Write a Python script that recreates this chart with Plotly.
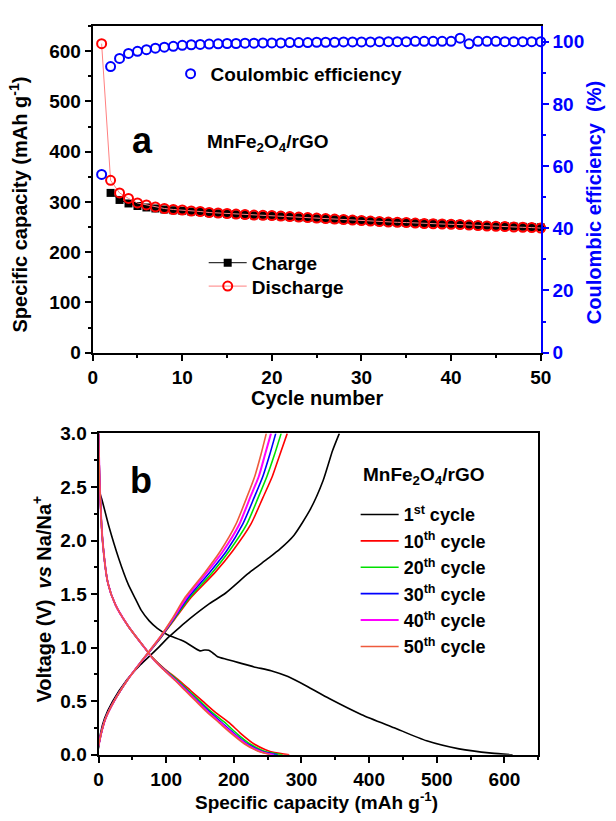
import plotly.graph_objects as go

W, H = 616, 821
def fx(px): return px / W
def fy(py): return 1 - py / H

# ---------------- Panel a data ----------------
cycles = list(range(1, 51))
charge_cycles = list(range(2, 51))
discharge_cap = [615, 343, 318, 307, 298, 294, 290, 287, 285, 284,
                 282, 281, 279, 278, 277, 276, 275, 274, 273.5, 273,
                 272, 271, 270, 269, 268, 267, 266, 265, 264, 263,
                 262, 261, 260, 259.5, 259, 258, 257, 256.5, 256, 255.5,
                 255, 254, 253, 252, 251.5, 251, 250, 249.5, 249, 248]
charge_cap = [318, 304, 297, 292, 289, 287, 285, 283.5, 282.5,
              281, 280, 278.5, 277.5, 276.5, 275.5, 274.5, 273.5, 273, 272.5,
              271.5, 270.5, 269.5, 268.5, 267.5, 266.5, 265.5, 265, 264, 263,
              262, 261, 260, 259.5, 259, 258, 257.5, 257, 256.5, 256,
              255.5, 254, 253.5, 252.5, 252, 251.5, 251, 250.5, 250, 249.5]
coulombic_eff = [57.3, 92.0, 94.6, 96.2, 96.9, 97.4, 97.9, 98.2, 98.5, 98.8,
                 99.0, 99.1, 99.2, 99.3, 99.4, 99.4, 99.5, 99.5, 99.6, 99.6,
                 99.6, 99.7, 99.7, 99.7, 99.8, 99.8, 99.8, 99.9, 99.9, 99.9,
                 99.9, 100.0, 100.0, 100.0, 100.0, 100.1, 100.1, 100.1, 100.1, 100.1,
                 101.1, 99.3, 100.1, 100.1, 100.1, 100.0, 100.0, 100.0, 100.0, 100.0]

# ---------------- Panel b data ----------------
dis_v = [3.0, 2.5, 2.0, 1.6, 1.4, 1.2, 1.0, 0.9, 0.8, 0.7, 0.6, 0.5, 0.4, 0.3, 0.2, 0.1, 0.05, 0.02, 0.0]
dis_10 = [0, 2, 6, 14, 25, 44, 68, 81, 98, 118, 136, 154, 172, 193, 210, 230, 246, 260, 282]
dis_20 = [0, 2, 6, 14, 25, 44, 68, 80.5, 97, 116, 133, 150, 167, 187, 204, 224, 239, 252, 272]
dis_30 = [0, 2, 6, 14, 25, 44, 68, 80, 96, 114, 131, 147, 164, 182, 200, 220, 235, 247, 265]
dis_40 = [0, 2, 6, 14, 25, 44, 68, 80, 95.5, 113, 129.5, 145.5, 162, 180, 198, 218, 232, 244, 259]
dis_50 = [0, 2, 6, 14, 25, 44, 68, 80, 95, 112, 128, 144, 160, 178, 196, 216, 230, 242, 254]

chg_v = [0.08, 0.2, 0.34, 0.5, 0.7, 0.86, 0.96, 1.1, 1.26, 1.47, 1.7, 1.9, 2.15, 2.4, 2.6, 2.8, 3.0]
chg_10 = [0, 4, 10.5, 23, 43, 62, 75, 93, 112, 137, 172, 198, 225, 243, 257, 268, 279]
chg_20 = [0, 4, 10.5, 23, 43, 62, 75, 92.5, 111, 135, 168, 193, 219, 236, 249, 260, 270]
chg_30 = [0, 4, 10.5, 23, 43, 62, 74.5, 92, 110, 133, 164, 189, 213, 230, 243, 253, 262]
chg_40 = [0, 4, 10.5, 23, 43, 62, 74.5, 91.5, 109, 130.5, 160, 184, 208, 224, 237, 246, 255]
chg_50 = [0, 4, 10.5, 23, 43, 62, 74, 91, 108, 128, 157, 180, 203, 219, 231, 240, 248]

first_dis_cap = [0, 2, 6, 15, 30, 44, 55, 63, 75, 87, 102, 126, 150, 157, 163, 169, 176, 190,
                 207, 230, 255, 280, 308, 341, 389, 437, 485, 533, 581, 612]
first_dis_v = [2.55, 2.45, 2.36, 2.14, 1.83, 1.59, 1.45, 1.35, 1.25, 1.18, 1.12, 1.06, 0.97, 0.978,
               0.975, 0.95, 0.915, 0.89, 0.86, 0.82, 0.785, 0.73, 0.64, 0.525, 0.374, 0.252, 0.13,
               0.055, 0.015, 0.0]
first_chg_cap = [0, 3, 9, 21, 42, 62, 77, 90, 104, 120, 135, 164, 188, 221, 250, 268, 289, 313, 332, 346, 356]
first_chg_v = [0.06, 0.2, 0.34, 0.5, 0.7, 0.84, 0.93, 1.01, 1.1, 1.19, 1.27, 1.41, 1.51, 1.69, 1.83,
               1.92, 2.05, 2.29, 2.56, 2.84, 3.0]

cycle_names = ["1<sup>st</sup> cycle", "10<sup>th</sup> cycle", "20<sup>th</sup> cycle",
               "30<sup>th</sup> cycle", "40<sup>th</sup> cycle", "50<sup>th</sup> cycle"]
cycle_colors = ["#000000", "#FF0000", "#00E000", "#0000FF", "#FF00FF", "#EE5A3C"]

FONT = "Liberation Sans, Arial, sans-serif"
fig = go.Figure()

# Panel a traces
fig.add_trace(go.Scatter(
    x=charge_cycles, y=charge_cap, mode="lines+markers", name="Charge",
    line=dict(color="#000000", width=1),
    marker=dict(symbol="square", size=8, color="#000000"),
    xaxis="x", yaxis="y", legend="legend2", cliponaxis=False))
fig.add_trace(go.Scatter(
    x=cycles, y=discharge_cap, mode="lines+markers", name="Discharge",
    line=dict(color="#FF8080", width=1),
    marker=dict(symbol="circle-open", size=9, color="#FF0000", line=dict(width=2, color="#FF0000")),
    xaxis="x", yaxis="y", legend="legend4", cliponaxis=False))
fig.add_trace(go.Scatter(
    x=cycles, y=coulombic_eff, mode="markers", name="Coulombic efficiency",
    marker=dict(symbol="circle-open", size=9, color="#0000FF", line=dict(width=2, color="#0000FF")),
    xaxis="x", yaxis="y2", legend="legend", cliponaxis=False))

# Panel b traces
dis_sets = [first_dis_cap, dis_10, dis_20, dis_30, dis_40, dis_50]
chg_sets = [first_chg_cap, chg_10, chg_20, chg_30, chg_40, chg_50]
for i, (name, col) in enumerate(zip(cycle_names, cycle_colors)):
    if i == 0:
        dv, cv = first_dis_v, first_chg_v
    else:
        dv, cv = dis_v, chg_v
    xs = list(dis_sets[i]) + [None] + list(chg_sets[i])
    ys = list(dv) + [None] + list(cv)
    fig.add_trace(go.Scatter(
        x=xs, y=ys, mode="lines", name=name,
        line=dict(color=col, width=1.6 if i != 4 else 2, shape="spline", smoothing=0.6),
        xaxis="x2", yaxis="y3", legend="legend3", connectgaps=False))

tickfont = dict(family=FONT, size=19, color="#000000", weight="bold")
common_axis = dict(showline=True, linewidth=2, linecolor="#000000", ticks="outside",
                   ticklen=6, tickwidth=2, tickcolor="#000000", showgrid=False,
                   zeroline=False, tickfont=tickfont)

legfont = dict(family=FONT, size=19, weight="bold")
fig.update_layout(
    width=W, height=H, margin=dict(l=0, r=0, t=0, b=0),
    paper_bgcolor="white", plot_bgcolor="white",
    font=dict(family=FONT, size=19, color="#000000"),
    xaxis=dict(domain=[fx(90), fx(550)], anchor="y", range=[0, 50], tick0=0, dtick=10,
               mirror=True, minor=dict(dtick=5, ticks="outside", ticklen=3, tickwidth=2, tickcolor="#000000"),
               **common_axis),
    yaxis=dict(domain=[fy(351.7), fy(16.5)], anchor="x", range=[0, 650], tick0=0, dtick=100,
               minor=dict(dtick=50, ticks="outside", ticklen=3, tickwidth=2, tickcolor="#000000"),
               **common_axis),
    yaxis2=dict(overlaying="y", side="right", anchor="x", range=[0, 105], tick0=0, dtick=20,
                showline=True, linewidth=2, linecolor="#0000FF", ticks="outside", ticklen=6,
                tickwidth=2, tickcolor="#0000FF", showgrid=False, zeroline=False,
                tickfont=dict(family=FONT, size=19, color="#0000FF", weight="bold"),
                minor=dict(dtick=10, ticks="outside", ticklen=3, tickwidth=2, tickcolor="#0000FF")),
    xaxis2=dict(domain=[fx(96), fx(547.5)], anchor="y3", range=[0, 650], tick0=0, dtick=100,
                mirror=True, ticklabelstandoff=0,
                minor=dict(dtick=50, ticks="outside", ticklen=3, tickwidth=2, tickcolor="#000000"),
                **common_axis),
    yaxis3=dict(domain=[fy(764.3), fy(434.5)], anchor="x2", range=[0, 3], tick0=0, dtick=0.5,
                tickformat=".1f", mirror=True,
                minor=dict(dtick=0.25, ticks="outside", ticklen=3, tickwidth=2, tickcolor="#000000"),
                **common_axis),
    legend=dict(x=fx(170), y=fy(46), xanchor="left", yanchor="top", bgcolor="rgba(0,0,0,0)",
                font=legfont, itemwidth=30),
    legend2=dict(x=fx(204), y=fy(240), xanchor="left", yanchor="top", bgcolor="rgba(0,0,0,0)",
                 font=legfont, itemwidth=38),
    legend4=dict(x=fx(204), y=fy(264), xanchor="left", yanchor="top", bgcolor="rgba(0,0,0,0)",
                 font=legfont, itemwidth=38),
    legend3=dict(x=fx(360), y=fy(499), xanchor="left", yanchor="top", bgcolor="rgba(0,0,0,0)",
                 font=dict(family=FONT, size=18, weight="bold"), itemwidth=38, tracegroupgap=0),
    showlegend=True,
)

def ann(text, x, y, size=20, color="#000000", angle=0, weight="bold", yanchor="middle"):
    fig.add_annotation(text=text, x=fx(x), y=fy(y), xref="paper", yref="paper",
                       showarrow=False, textangle=angle, xanchor="center", yanchor=yanchor,
                       font=dict(family=FONT, size=size, color=color, weight=weight))

ann("Cycle number", 320, 398)
ann("Specific capacity (mAh g<sup>-1</sup>)", 14, 200, angle=-90)
ann("Coulombic efficiency  (%)", 605, 198, color="#0000FF", angle=-90)
ann("a", 141, 134, size=36)
ann("MnFe<sub>2</sub>O<sub>4</sub>/rGO", 270, 137, size=19)
ann("Specific capacity (mAh g<sup>-1</sup>)", 320, 826, size=19, yanchor="bottom")
ann("Voltage (V)  <i>vs</i> Na/Na<sup>+</sup>", 38, 605, angle=-90)
ann("b", 140, 483, size=36)
ann("MnFe<sub>2</sub>O<sub>4</sub>/rGO", 430, 478, size=19)

fig.write_html("out.html")
